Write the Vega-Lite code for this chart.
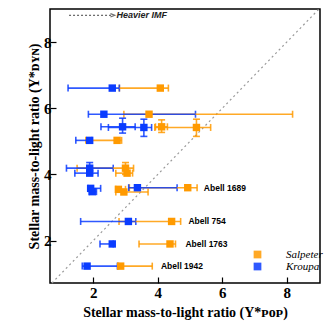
{
  "$schema": "https://vega.github.io/schema/vega-lite/v6.json",
  "width": 270,
  "height": 274,
  "autosize": {"type": "none"},
  "padding": {"left": 50, "top": 9, "right": 8, "bottom": 47},
  "background": "white",
  "config": {
    "view": {"stroke": "black", "strokeWidth": 1.5},
    "axis": {
      "domain": false,
      "grid": false,
      "labelFont": "Liberation Serif",
      "labelFontWeight": "bold",
      "labelFontSize": 15,
      "labelColor": "black",
      "titleFont": "Liberation Serif",
      "titleFontWeight": "bold",
      "titleFontSize": 14,
      "titleColor": "black",
      "tickColor": "black",
      "tickWidth": 1.2
    },
    "legend": {
      "labelFont": "Liberation Serif",
      "labelFontStyle": "italic",
      "labelFontSize": 11,
      "labelColor": "black"
    }
  },
  "datasets": {
    "pts": [
      {"imf": "Salpeter", "x": 4.08, "xlo": 2.81, "xhi": 4.33, "y": 6.61},
      {"imf": "Salpeter", "x": 3.73, "xlo": 2.95, "xhi": 8.18, "y": 5.82},
      {"imf": "Salpeter", "x": 4.12, "xlo": 3.93, "xhi": 4.30, "y": 5.44, "ylo": 5.27, "yhi": 5.65},
      {"imf": "Salpeter", "x": 5.20, "xlo": 3.91, "xhi": 5.64, "y": 5.42, "ylo": 5.15, "yhi": 5.67},
      {"imf": "Salpeter", "x": 2.74, "xlo": 1.77, "xhi": 2.88, "y": 5.03},
      {"imf": "Salpeter", "x": 3.00, "xlo": 1.50, "xhi": 3.25, "y": 4.19, "ylo": 4.00, "yhi": 4.36},
      {"imf": "Salpeter", "x": 3.05, "xlo": 2.70, "xhi": 3.22, "y": 4.04},
      {"imf": "Salpeter", "x": 2.78, "xlo": 2.70, "xhi": 3.00, "y": 3.55},
      {"imf": "Salpeter", "x": 2.95, "xlo": 2.70, "xhi": 3.70, "y": 3.47},
      {"imf": "Salpeter", "x": 4.93, "xlo": 3.12, "xhi": 5.22, "y": 3.60},
      {"imf": "Salpeter", "x": 4.43, "xlo": 2.80, "xhi": 4.71, "y": 2.58},
      {"imf": "Salpeter", "x": 4.38, "xlo": 3.42, "xhi": 4.55, "y": 1.90},
      {"imf": "Salpeter", "x": 2.85, "xlo": 2.78, "xhi": 3.83, "y": 1.23},
      {"imf": "Kroupa", "x": 2.59, "xlo": 1.22, "xhi": 2.81, "y": 6.61},
      {"imf": "Kroupa", "x": 2.33, "xlo": 1.85, "xhi": 5.17, "y": 5.82},
      {"imf": "Kroupa", "x": 2.91, "xlo": 2.24, "xhi": 3.30, "y": 5.44, "ylo": 5.25, "yhi": 5.70},
      {"imf": "Kroupa", "x": 3.57, "xlo": 2.47, "xhi": 3.81, "y": 5.42, "ylo": 5.15, "yhi": 5.67},
      {"imf": "Kroupa", "x": 1.89, "xlo": 1.46, "xhi": 1.95, "y": 5.03},
      {"imf": "Kroupa", "x": 1.89, "xlo": 1.17, "xhi": 2.62, "y": 4.19, "ylo": 4.00, "yhi": 4.36},
      {"imf": "Kroupa", "x": 1.89, "xlo": 1.43, "xhi": 2.15, "y": 4.04},
      {"imf": "Kroupa", "x": 1.92, "xlo": 1.85, "xhi": 2.23, "y": 3.58},
      {"imf": "Kroupa", "x": 1.97, "xlo": 1.88, "xhi": 2.10, "y": 3.48},
      {"imf": "Kroupa", "x": 3.37, "xlo": 3.10, "xhi": 4.60, "y": 3.60},
      {"imf": "Kroupa", "x": 3.09, "xlo": 1.61, "xhi": 3.32, "y": 2.58},
      {"imf": "Kroupa", "x": 2.59, "xlo": 2.21, "xhi": 2.62, "y": 1.90},
      {"imf": "Kroupa", "x": 1.81, "xlo": 1.66, "xhi": 2.75, "y": 1.23}
    ],
    "labels": [
      {"name": "Abell 1689", "x": 5.43, "y": 3.60},
      {"name": "Abell 754", "x": 4.95, "y": 2.58},
      {"name": "Abell 1763", "x": 4.86, "y": 1.90},
      {"name": "Abell 1942", "x": 4.10, "y": 1.23}
    ],
    "diag": [
      {"x": 0.72, "y": 0.72},
      {"x": 9.0, "y": 9.0}
    ],
    "imfnote": [
      {"x": 1.25, "x2": 2.60, "y": 8.81, "text": "Heavier IMF", "tx": 2.72}
    ]
  },
  "layer": [
    {
      "data": {"name": "diag"},
      "mark": {"type": "line", "color": "#9a9a9a", "strokeWidth": 1.2, "strokeDash": [2, 3]},
      "encoding": {
        "x": {
          "field": "x", "type": "quantitative",
          "scale": {"domain": [0.66, 9.03], "nice": false, "zero": false},
          "title": "Stellar mass-to-light ratio (Υ*ᴘᴏᴘ)",
          "axis": {
            "values": [2, 4, 6, 8],
            "tickSize": -6,
            "labelColor": "black",
            "labelFontWeight": "bold",
            "labelPadding": 8,
            "titlePadding": 5
          }
        },
        "y": {
          "field": "y", "type": "quantitative",
          "scale": {"domain": [0.72, 9.0], "nice": false, "zero": false},
          "title": "Stellar mass-to-light ratio (Υ*ᴅʏɴ)",
          "axis": {
            "values": [2, 4, 6, 8],
            "tickSize": -6,
            "labelColor": "black",
            "labelFontWeight": "bold",
            "labelPadding": 5,
            "titlePadding": 2
          }
        }
      }
    },
    {
      "data": {"name": "imfnote"},
      "mark": {"type": "rule", "color": "#444", "strokeWidth": 1, "strokeDash": [2, 2]},
      "encoding": {
        "x": {"field": "x", "type": "quantitative", "title": "Stellar mass-to-light ratio (Υ*ᴘᴏᴘ)"},
        "x2": {"field": "x2"},
        "y": {"field": "y", "type": "quantitative", "title": "Stellar mass-to-light ratio (Υ*ᴅʏɴ)"}
      }
    },
    {
      "data": {"name": "imfnote"},
      "mark": {"type": "point", "shape": "M-1,-0.8L1,0L-1,0.8", "filled": false, "stroke": "#333", "strokeWidth": 1.2, "size": 18},
      "encoding": {
        "x": {"field": "x2", "type": "quantitative", "title": "Stellar mass-to-light ratio (Υ*ᴘᴏᴘ)"},
        "y": {"field": "y", "type": "quantitative", "title": "Stellar mass-to-light ratio (Υ*ᴅʏɴ)"}
      }
    },
    {
      "data": {"name": "imfnote"},
      "mark": {"type": "text", "align": "left", "baseline": "middle", "font": "Liberation Sans", "fontStyle": "italic", "fontWeight": "bold", "fontSize": 9, "color": "#222"},
      "encoding": {
        "x": {"field": "tx", "type": "quantitative", "title": "Stellar mass-to-light ratio (Υ*ᴘᴏᴘ)"},
        "y": {"field": "y", "type": "quantitative", "title": "Stellar mass-to-light ratio (Υ*ᴅʏɴ)"},
        "text": {"field": "text"}
      }
    },
    {
      "data": {"name": "pts"},
      "mark": {"type": "errorbar", "ticks": true, "size": 7, "thickness": 1.6, "opacity": 0.85},
      "encoding": {
        "x": {"field": "xlo", "type": "quantitative", "title": "Stellar mass-to-light ratio (Υ*ᴘᴏᴘ)"},
        "x2": {"field": "xhi"},
        "y": {"field": "y", "type": "quantitative", "title": "Stellar mass-to-light ratio (Υ*ᴅʏɴ)"},
        "color": {"field": "imf", "type": "nominal", "title": null, "scale": {"domain": ["Salpeter", "Kroupa"], "range": ["#FF9A00", "#0A3CFF"]}}
      }
    },
    {
      "data": {"name": "pts"},
      "transform": [{"filter": "isValid(datum.ylo)"}],
      "mark": {"type": "errorbar", "ticks": true, "size": 7, "thickness": 1.6, "opacity": 0.85},
      "encoding": {
        "y": {"field": "ylo", "type": "quantitative", "title": "Stellar mass-to-light ratio (Υ*ᴅʏɴ)"},
        "y2": {"field": "yhi"},
        "x": {"field": "x", "type": "quantitative", "title": "Stellar mass-to-light ratio (Υ*ᴘᴏᴘ)"},
        "color": {"field": "imf", "type": "nominal", "title": null}
      }
    },
    {
      "data": {"name": "pts"},
      "mark": {"type": "point", "shape": "square", "filled": true, "size": 55, "opacity": 1},
      "encoding": {
        "x": {"field": "x", "type": "quantitative", "title": "Stellar mass-to-light ratio (Υ*ᴘᴏᴘ)"},
        "y": {"field": "y", "type": "quantitative", "title": "Stellar mass-to-light ratio (Υ*ᴅʏɴ)"},
        "color": {
          "field": "imf", "type": "nominal", "title": null,
          "legend": {
            "orient": "none", "legendX": 202, "legendY": 240,
            "symbolType": "square", "symbolSize": 60,
            "symbolStrokeWidth": 0, "symbolOpacity": 1,
            "labelFont": "Liberation Serif", "labelFontStyle": "italic",
            "labelFontSize": 11, "labelColor": "black", "labelOffset": 23,
            "rowPadding": 0
          }
        }
      }
    },
    {
      "data": {"name": "labels"},
      "mark": {"type": "text", "align": "left", "baseline": "middle", "font": "Liberation Sans", "fontWeight": "bold", "fontSize": 8.5, "color": "black"},
      "encoding": {
        "x": {"field": "x", "type": "quantitative", "title": "Stellar mass-to-light ratio (Υ*ᴘᴏᴘ)"},
        "y": {"field": "y", "type": "quantitative", "title": "Stellar mass-to-light ratio (Υ*ᴅʏɴ)"},
        "text": {"field": "name"}
      }
    }
  ]
}
